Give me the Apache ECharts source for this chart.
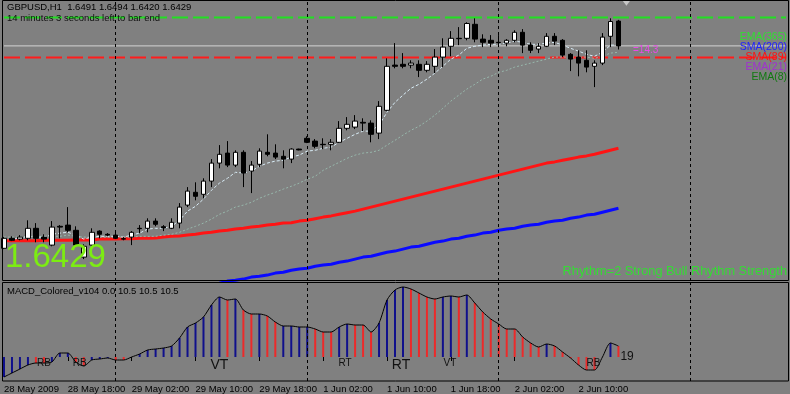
<!DOCTYPE html>
<html><head><meta charset="utf-8">
<script src="https://cdn.jsdelivr.net/npm/echarts@6/dist/echarts.min.js"></script>
<style>html,body{margin:0;padding:0;background:#808080;overflow:hidden}#c{width:790px;height:394px}</style>
</head><body><div id="c"></div><script>
// ---------- DATA ----------
const symbolName = 'GBPUSD,H1';
const timerText = '14 minutes 3 seconds left to bar end';
const macdTitle = 'MACD_Colored_v104 0.0 10.5 10.5 10.5';
const rhythmText = 'Rhythm=2 Strong Bull Rhythm Strength';
// trading sessions: [day label, first hour, last hour]
const sessions = [['28 May',10,23],['29 May',0,23],['1 Jun',0,23],['2 Jun',0,23],['3 Jun',0,12]];
const tickLabels = ['28 May 2009','28 May 18:00','29 May 02:00','29 May 10:00','29 May 18:00','1 Jun 02:00','1 Jun 10:00','1 Jun 18:00','2 Jun 02:00','2 Jun 10:00'];
// candles: [open, close, low, high]
const candles = [
[1.5923,1.5948,1.5921,1.5951],[1.5948,1.5943,1.5941,1.5953],[1.5946,1.5951,1.5943,1.5956],[1.5948,1.5973,1.5943,1.5993],
[1.5973,1.5948,1.5938,1.5986],[1.5951,1.5946,1.5938,1.5958],[1.5931,1.5976,1.5928,1.5991],[1.5978,1.5976,1.5948,1.5981],
[1.5981,1.5968,1.5963,1.6026],[1.5968,1.5931,1.5926,1.5978],[1.5901,1.5928,1.5896,1.5933],[1.5931,1.5963,1.5926,1.5973],
[1.5966,1.5958,1.5948,1.5968],[1.5958,1.5956,1.5953,1.5961],[1.5956,1.5948,1.5946,1.5963],[1.5947,1.5946,1.5943,1.5951],
[1.5951,1.5963,1.5931,1.5966],[1.5973,1.5972,1.5961,1.5981],[1.5973,1.5991,1.5963,1.5998],[1.5991,1.5983,1.5978,1.5998],
[1.5977,1.5974,1.5966,1.5981],[1.5973,1.5988,1.5971,1.5998],[1.5986,1.6026,1.5973,1.6036],[1.6031,1.6066,1.6026,1.6076],
[1.6063,1.6053,1.6043,1.6088],[1.6058,1.6091,1.6048,1.6098],[1.6091,1.6136,1.6076,1.6146],[1.6136,1.6158,1.6123,1.6181],
[1.6161,1.6131,1.6126,1.6191],[1.6131,1.6163,1.6126,1.6168],[1.6163,1.6111,1.6076,1.6168],[1.6116,1.6131,1.6061,1.6141],
[1.6133,1.6166,1.6126,1.6173],[1.6163,1.6158,1.6153,1.6208],[1.6161,1.6151,1.6146,1.6183],[1.6153,1.6146,1.6123,1.6168],
[1.6146,1.6171,1.6136,1.6173],[1.6171,1.6169,1.6168,1.6172],[1.6198,1.6188,1.6186,1.6203],[1.6191,1.6178,1.6173,1.6196],
[1.6183,1.6182,1.6171,1.6198],[1.6183,1.6188,1.6168,1.6196],[1.6188,1.6223,1.6186,1.6241],[1.6223,1.6233,1.6218,1.6251],
[1.6226,1.6241,1.6221,1.6256],[1.6238,1.6236,1.6216,1.6248],[1.6236,1.6208,1.6188,1.6243],[1.6211,1.6278,1.6196,1.6291],
[1.6268,1.6378,1.6266,1.6398],[1.6381,1.6378,1.6373,1.6436],[1.6383,1.6378,1.6373,1.6411],[1.6381,1.6386,1.6373,1.6393],
[1.6383,1.6368,1.6351,1.6393],[1.6368,1.6383,1.6363,1.6391],[1.6378,1.6401,1.6361,1.6421],[1.6401,1.6426,1.6376,1.6448],
[1.6428,1.6448,1.6403,1.6466],[1.6448,1.6447,1.6431,1.6476],[1.6448,1.6485,1.6443,1.6488],[1.6483,1.6446,1.6438,1.6498],
[1.6446,1.6438,1.6426,1.6458],[1.6443,1.6436,1.6426,1.6456],[1.6438,1.6437,1.6426,1.6456],[1.6436,1.6443,1.6428,1.6446],
[1.6443,1.6463,1.6438,1.6468],[1.6463,1.6431,1.6411,1.6471],[1.6431,1.6418,1.6411,1.6438],[1.6421,1.6428,1.6411,1.6436],
[1.6428,1.6453,1.6426,1.6461],[1.6453,1.6441,1.6431,1.6461],[1.6443,1.6406,1.6401,1.6446],[1.6408,1.6396,1.6366,1.6411],
[1.6401,1.6386,1.6353,1.6418],[1.6393,1.6376,1.6363,1.6418],[1.6378,1.6386,1.6326,1.6393],[1.6386,1.6451,1.6381,1.6461],
[1.6453,1.6490,1.6426,1.6498],[1.6491,1.6429,1.6420,1.6494]
];
const ema8 = [1.5943,1.5946,1.5948,1.5953,1.5951,1.5951,1.5958,1.5961,1.5963,1.5956,1.5946,1.5951,1.5953,1.5953,1.5953,1.5951,
1.5956,1.5961,1.5971,1.5973,1.5973,1.5978,1.5993,1.6016,1.6028,1.6046,1.6068,1.6086,1.6098,1.6113,1.6111,1.6116,
1.6128,1.6136,1.6141,1.6143,1.6151,1.6156,1.6166,1.6168,1.6173,1.6176,1.6188,1.6198,1.6208,1.6216,1.6216,1.6231,
1.6263,1.6288,1.6306,1.6323,1.6333,1.6346,1.6361,1.6378,1.6396,1.6406,1.6423,1.6428,1.6431,1.6433,1.6433,1.6436,
1.6441,1.6438,1.6433,1.6433,1.6436,1.6438,1.6431,1.6423,1.6416,1.6408,1.6403,1.6413,1.6431,1.6431];
const ema21 = [1.5951,1.5951,1.5951,1.5953,1.5953,1.5953,1.5953,1.5953,1.5956,1.5953,1.5951,1.5951,1.5951,1.5951,1.5951,1.5951,
1.5951,1.5953,1.5953,1.5953,1.5956,1.5958,1.5963,1.5971,1.5978,1.5986,1.5996,1.6008,1.6016,1.6026,1.6031,1.6038,
1.6048,1.6056,1.6063,1.6071,1.6078,1.6086,1.6096,1.6103,1.6118,1.6128,1.6138,1.6148,1.6156,1.6161,1.6163,1.6168,
1.6181,1.6193,1.6206,1.6218,1.6228,1.6241,1.6256,1.6273,1.6291,1.6306,1.6321,1.6333,1.6346,1.6353,1.6363,1.6368,
1.6376,1.6381,1.6386,1.6391,1.6396,1.6401,1.6401,1.6401,1.6401,1.6401,1.6398,1.6403,1.6411,1.6413];
const sma89 = [1.5942,1.5942,1.5942,1.5942,1.5942,1.5943,1.5943,1.5943,1.5943,1.5944,1.5944,1.5944,1.5946,1.5946,1.5946,1.5947,
1.5947,1.5948,1.5948,1.5949,1.5951,1.5953,1.5954,1.5956,1.5958,1.5961,1.5963,1.5966,1.5968,1.5971,1.5973,1.5976,
1.5978,1.5981,1.5983,1.5986,1.5987,1.5991,1.5993,1.5997,1.6001,1.6004,1.6008,1.6012,1.6016,1.6021,1.6026,1.6031,
1.6036,1.6041,1.6046,1.6051,1.6056,1.6061,1.6066,1.6071,1.6076,1.6081,1.6086,1.6091,1.6096,1.6101,1.6106,1.6111,
1.6116,1.6121,1.6126,1.6131,1.6136,1.6139,1.6143,1.6147,1.6151,1.6154,1.6158,1.6163,1.6168,1.6173];
const sma200 = [null,null,null,null,null,null,null,null,null,null,null,null,null,null,null,null,
null,null,null,null,null,null,null,null,null,null,null,1.5836,1.5841,1.5843,1.5846,1.5851,
1.5853,1.5856,1.5861,1.5863,1.5868,1.5871,1.5873,1.5878,1.5881,1.5883,1.5888,1.5891,1.5896,1.5901,1.5903,1.5908,
1.5913,1.5916,1.5921,1.5926,1.5928,1.5933,1.5938,1.5941,1.5946,1.5948,1.5953,1.5956,1.5961,1.5963,1.5968,1.5971,
1.5973,1.5978,1.5981,1.5983,1.5988,1.5991,1.5993,1.5998,1.6001,1.6006,1.6008,1.6013,1.6018,1.6023];
const macd = [-0.0010,-0.0008,-0.0006,-0.0004,-0.0003,-0.0003,-0.00025,0.0002,0.0002,-0.00025,-0.00045,-0.00015,-0.0001,-0.00005,-0.00015,-0.00015,
0,0.00015,0.00035,0.0004,0.00045,0.00055,0.00095,0.0015,0.0017,0.0020,0.0026,0.0030,0.00285,0.0029,0.00235,0.00215,
0.00215,0.00205,0.00175,0.00155,0.00155,0.0015,0.0015,0.0014,0.00125,0.00125,0.0015,0.00165,0.0016,0.0016,0.00125,0.0017,
0.00285,0.00335,0.0035,0.0034,0.0032,0.0030,0.0029,0.0030,0.00305,0.0030,0.0031,0.0027,0.00225,0.0019,0.00165,0.0014,
0.0014,0.0010,0.0007,0.0005,0.00065,0.00055,0.00025,-0.00005,-0.0004,-0.00065,-0.00065,0,0.0007,0.00055];
const macdDir = ('bbbb'+'rr'+'bbb'+'rr'+'bbb'+'rr'+'bbbbbbbbbbbb'+'r'+'b'+'rr'+'b'+'rr'+'bbbb'+'rrr'+'bb'+'rrr'+'bbbb'+'rrrr'+'bb'+'r'+'b'+'rrrrrrrrr'+'b'+'rrrrrrr'+'b'+'r').split('');
// horizontal level lines: [price, colour, dash, width]
const levels = [[1.6500,'#22e022',[16,5],2],[1.6429,'#d4d4d4','solid',1],[1.6400,'#ff1c1c',[16,5],2]];
const bidPrice = 1.6429;
const arrowMark = [78, 1.6537];
// [index, value, text, fontSize, xOffset, align]
const macdMarks = [[5,-0.0003,'RB',10,0,'center'],[10,-0.0003,'RB',10,-4,'center'],[27,-0.0004,'VT',14,0,'center'],
 [43,-0.0003,'RT',10,-2,'center'],[50,-0.0004,'RT',14,-2,'center'],[56,-0.0003,'VT',10,-1,'center'],
 [74,-0.0003,'RB',10,-1,'center'],[77,0,'19',12,2,'left']];
const maLegend = [['EMA(365)','#30e030'],['SMA(200)','#2020ff'],['SMA(89)','#ff1010'],['EMA(21)','#a030d0'],['EMA(8)','#107a10']];
const statusText = '=14.3';

// ---------- BUILD ----------
const categories = [];
const dayStarts = [];
sessions.forEach(([d,h0,h1],si)=>{
  if(si>0) dayStarts.push(categories.length);
  for(let h=h0;h<=h1;h++) categories.push(d+' '+String(h).padStart(2,'0')+':00');
});
const lastIdx = categories.length-1;
const last = candles[candles.length-1];
const FONT = '"Liberation Sans", Arial, sans-serif';
const tickFn = (i)=> i%8===0 && i/8 < tickLabels.length;
const sepLines = dayStarts.map(i=>({xAxis:i}));
const sepStyle = {color:'#000',type:[3,3],width:1};

// each level drawn as a two-end line across the whole time axis
const levelSeries = levels.map(([v,color,type,w])=>{
  const d = categories.map(()=>null); d[0]=v; d[lastIdx]=v;
  return {type:'line',xAxisIndex:0,yAxisIndex:0,data:d,connectNulls:true,showSymbol:false,z:1,silent:true,
    color:color,lineStyle:{color:color,type:type,width:w,opacity:1},clip:true};
});

const chart = echarts.init(document.getElementById('c'), null, {renderer:'canvas'});
const option = {
  animation:false,
  backgroundColor:'#808080',
  grid:[{left:0,top:0,width:792,height:281},{left:0,top:282,width:792,height:99}],
  xAxis:[
    {type:'category',gridIndex:0,data:categories,show:false,boundaryGap:true},
    {type:'category',gridIndex:1,data:categories,boundaryGap:true,
     axisLine:{show:false},
     axisTick:{show:true,interval:tickFn,alignWithLabel:true,length:4,inside:false,lineStyle:{color:'#000'}},
     axisLabel:{interval:tickFn,align:'left',margin:3,color:'#000',fontSize:9.5,fontFamily:FONT,
       formatter:(v,i)=>tickLabels[i/8]||''},
     splitLine:{show:false}}
  ],
  yAxis:[
    {type:'value',gridIndex:0,min:1.584125,max:1.654375,show:false},
    {type:'value',gridIndex:1,min:-0.0012,max:0.00375,show:false}
  ],
  series:levelSeries.concat([
    {type:'line',xAxisIndex:0,yAxisIndex:0,data:[],z:1,silent:true,color:'#000',
     markLine:{silent:true,symbol:['none','none'],label:{show:false},animation:false,lineStyle:sepStyle,data:sepLines}},
    {type:'line',name:'SMA(200)',xAxisIndex:0,yAxisIndex:0,data:sma200,showSymbol:false,z:2,
     lineStyle:{color:'#0a0aff',width:3},clip:true},
    {type:'line',name:'SMA(89)',xAxisIndex:0,yAxisIndex:0,data:sma89,showSymbol:false,z:2,
     lineStyle:{color:'#ff1414',width:3},clip:true},
    {type:'line',name:'EMA(21)',xAxisIndex:0,yAxisIndex:0,data:ema21,showSymbol:false,z:2,
     lineStyle:{color:'#98b8ac',width:1,type:[2,2]},clip:true},
    {type:'line',name:'EMA(8)',xAxisIndex:0,yAxisIndex:0,data:ema8,showSymbol:false,z:2,
     lineStyle:{color:'#d8ecf6',width:1,type:[3,2]},clip:true},
    {type:'candlestick',xAxisIndex:0,yAxisIndex:0,data:candles,barWidth:5,z:3,
     itemStyle:{color:'#ffffff',color0:'#000000',borderColor:'#000000',borderColor0:'#000000',borderWidth:1}},
    {type:'scatter',xAxisIndex:0,yAxisIndex:0,data:[arrowMark],symbol:'triangle',symbolRotate:180,
     symbolSize:[9,6],itemStyle:{color:'#d8d8d8'},z:4},
    // MACD panel
    {type:'bar',xAxisIndex:1,yAxisIndex:1,barWidth:2,z:2,
     data:macd.map((v,i)=>({value:v,itemStyle:{color:macdDir[i]==='b'?'#10108c':'#ec2a2a'}})),
     markLine:{silent:true,symbol:['none','none'],label:{show:false},animation:false,lineStyle:sepStyle,data:sepLines}},
    {type:'line',xAxisIndex:1,yAxisIndex:1,data:macd,showSymbol:false,smooth:0.25,z:3,
     lineStyle:{color:'#000',width:1},
     markPoint:{symbol:'circle',symbolSize:0,animation:false,
       data:macdMarks.map(m=>({coord:[m[0],m[1]],name:m[2],
         label:{show:true,formatter:'{b}',fontSize:m[3],fontFamily:FONT,color:'#111',align:m[5],offset:[m[4],0]}}))}}
  ]),
  graphic:[
    {type:'text',left:7,top:2,z:50,style:{text:symbolName+'  '+[last[0],last[3],last[2],last[1]].map(v=>v.toFixed(4)).join(' '),font:'9.5px '+FONT,fill:'#000'}},
    {type:'text',left:7,top:13,z:50,style:{text:timerText,font:'9.5px '+FONT,fill:'#111'}},
    {type:'text',left:7,top:286,z:50,style:{text:macdTitle,font:'9.5px '+FONT,fill:'#000'}},
    {type:'text',x:5,y:258,z:50,style:{text:bidPrice.toFixed(4),font:'33px '+FONT,fill:'#7cec12',textVerticalAlign:'middle'}},
    {type:'text',x:787,y:271,z:50,style:{text:rhythmText,font:'12.8px '+FONT,fill:'#33dd33',textAlign:'right',textVerticalAlign:'middle'}},
    {type:'text',x:633,y:50,z:50,style:{text:statusText,font:'10px '+FONT,fill:'#e848e8',textVerticalAlign:'middle'}}
  ].concat(maLegend.map((m,i)=>({type:'text',x:787,y:37+i*10,z:50,
      style:{text:m[0],font:'10.5px '+FONT,fill:m[1],textAlign:'right',textVerticalAlign:'middle'}})))
   .concat([
    {type:'rect',z:60,silent:true,shape:{x:2.5,y:0.5,width:786,height:280},style:{fill:null,stroke:'#000',lineWidth:1}},
    {type:'rect',z:60,silent:true,shape:{x:2.5,y:282.5,width:786,height:98.5},style:{fill:null,stroke:'#000',lineWidth:1}}
   ])
};
chart.setOption(option);
</script></body></html>
